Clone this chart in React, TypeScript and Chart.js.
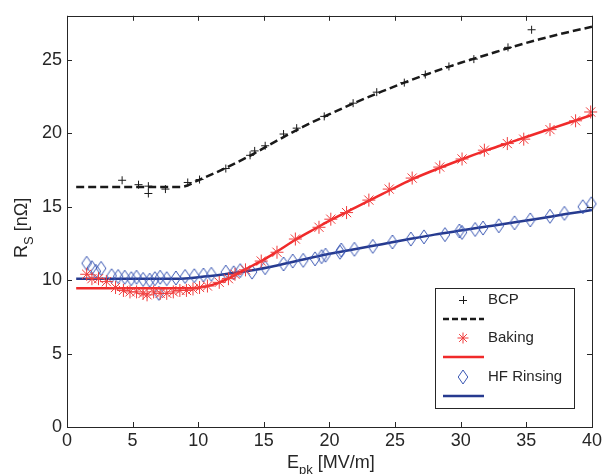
import React, { useEffect, useRef } from "react";
import { Chart, registerables } from "chart.js";

Chart.register(...registerables);

// ---- Data ----
const X_TICKS = [0, 5, 10, 15, 20, 25, 30, 35, 40];
const Y_TICKS = [0, 5, 10, 15, 20, 25];

const BCP_X = [4.2, 5.45, 6.2, 6.2, 7.5, 9.2, 10.1, 12.1, 13.95, 14.3, 15.1, 16.5, 17.5, 19.6, 21.8, 23.6, 25.7, 27.3, 29.1, 31.0, 33.6, 35.4];
const BCP_Y = [16.8, 16.5, 16.4, 15.9, 16.2, 16.65, 16.85, 17.6, 18.5, 18.8, 19.15, 19.95, 20.35, 21.15, 22.05, 22.8, 23.45, 24.0, 24.55, 25.05, 25.85, 27.05];

const BCP_FIT_X = [0.7, 8.7, 10, 12, 14, 16, 18, 20, 22, 24, 26, 28, 30, 32, 34, 36, 38, 40];
const BCP_FIT_Y = [16.35, 16.35, 16.8, 17.6, 18.5, 19.5, 20.45, 21.3, 22.1, 22.85, 23.55, 24.2, 24.8, 25.35, 25.9, 26.4, 26.85, 27.25];

const BAKING_X = [1.5, 1.9, 2.4, 3.0, 3.7, 4.3, 4.8, 5.3, 5.8, 6.1, 6.6, 7.1, 7.6, 8.1, 8.6, 9.1, 9.6, 10.1, 10.7, 11.6, 12.3, 12.8, 13.6, 14.8, 16.0, 17.4, 19.2, 20.1, 21.3, 23.0, 24.55, 26.3, 28.4, 30.1, 31.8, 33.55, 34.8, 36.8, 38.75, 39.9];
const BAKING_Y = [10.4, 10.1, 10.1, 9.9, 9.5, 9.3, 9.2, 9.2, 9.1, 9.0, 9.2, 9.1, 9.1, 9.2, 9.3, 9.3, 9.4, 9.5, 9.6, 9.85, 10.1, 10.4, 10.7, 11.3, 11.9, 12.8, 13.6, 14.15, 14.6, 15.45, 16.2, 16.95, 17.7, 18.25, 18.85, 19.3, 19.6, 20.25, 20.85, 21.45];

const BAKING_FIT_X = [0.7, 9.5, 10.5, 11.5, 12.5, 13.5, 15, 16, 17.5, 19, 20, 22, 24, 26, 28, 30, 32, 34, 36, 38, 40];
const BAKING_FIT_Y = [9.45, 9.45, 9.55, 9.8, 10.2, 10.7, 11.4, 11.95, 12.8, 13.55, 14.05, 14.95, 15.85, 16.75, 17.5, 18.2, 18.85, 19.45, 20.05, 20.65, 21.25];

const HF_X = [1.5, 1.9, 2.2, 2.6, 3.4, 3.9, 4.4, 4.9, 5.3, 5.8, 6.3, 6.7, 7.0, 7.1, 7.6, 8.3, 9.0, 9.7, 10.4, 11.0, 12.1, 12.7, 13.2, 14.1, 15.1, 16.5, 17.2, 18.0, 18.9, 19.4, 19.7, 20.8, 20.9, 21.9, 23.3, 24.8, 26.2, 27.2, 28.8, 29.9, 30.1, 31.1, 31.7, 32.9, 34.1, 35.3, 36.8, 37.9, 39.3, 39.95];
const HF_Y = [11.15, 10.85, 10.6, 10.8, 10.3, 10.25, 10.2, 10.1, 10.2, 10.05, 10.0, 10.1, 9.1, 10.2, 10.1, 10.15, 10.25, 10.3, 10.35, 10.4, 10.55, 10.5, 10.65, 10.55, 10.85, 11.1, 11.3, 11.35, 11.45, 11.6, 11.7, 11.9, 12.05, 12.1, 12.3, 12.6, 12.8, 12.95, 13.1, 13.35, 13.25, 13.45, 13.55, 13.7, 13.9, 14.1, 14.35, 14.55, 15.0, 15.2];

const HF_FIT_X = [0.7, 8.5, 10, 12, 14, 16, 18, 20, 22, 24, 26, 28, 30, 32, 34, 36, 38, 40];
const HF_FIT_Y = [10.1, 10.1, 10.2, 10.4, 10.65, 11.0, 11.4, 11.8, 12.12, 12.45, 12.78, 13.1, 13.38, 13.65, 13.92, 14.2, 14.5, 14.77];

const LEGEND_LABELS = ["BCP", "Baking", "HF Rinsing"];

// ---- Styles ----
const FONT = "'Liberation Sans', Arial, Helvetica, sans-serif";
const AXIS_COLOR = "#262626";
const BLACK = "#1a1a1a";
const RED_LINE = "#f02a2a";
const RED_MARK = "#f03c3c";
const BLUE_LINE = "#263a8f";
const BLUE_MARK = "#3a57b3";

const toPts = (xs: number[], ys: number[]) => xs.map((x, i) => ({ x, y: ys[i] }));

function makeDiamond(color: string): HTMLCanvasElement {
  const c = document.createElement("canvas");
  c.width = 12;
  c.height = 16;
  const g = c.getContext("2d")!;
  g.strokeStyle = color;
  g.lineWidth = 1;
  g.beginPath();
  g.moveTo(6, 1);
  g.lineTo(10.8, 8);
  g.lineTo(6, 15);
  g.lineTo(1.2, 8);
  g.closePath();
  g.stroke();
  return c;
}

export default function App() {
  const ref = useRef<HTMLCanvasElement | null>(null);

  useEffect(() => {
    if (!ref.current) return;
    const diamond = makeDiamond(BLUE_MARK);

    const decor = {
      id: "decor",
      afterDraw(chart: any) {
        const ctx = chart.ctx as CanvasRenderingContext2D;
        const { left, right, top, bottom } = chart.chartArea;
        const xs = chart.scales.x;
        const ys = chart.scales.y;
        ctx.save();
        // box
        ctx.strokeStyle = AXIS_COLOR;
        ctx.lineWidth = 1;
        ctx.strokeRect(Math.round(left) + 0.5, Math.round(top) + 0.5, Math.round(right - left), Math.round(bottom - top));
        // inward ticks
        const TL = 5;
        ctx.beginPath();
        X_TICKS.forEach((v) => {
          const px = Math.round(xs.getPixelForValue(v)) + 0.5;
          ctx.moveTo(px, bottom);
          ctx.lineTo(px, bottom - TL);
          ctx.moveTo(px, top);
          ctx.lineTo(px, top + TL);
        });
        Y_TICKS.forEach((v) => {
          const py = Math.round(ys.getPixelForValue(v)) + 0.5;
          ctx.moveTo(left, py);
          ctx.lineTo(left + TL, py);
          ctx.moveTo(right, py);
          ctx.lineTo(right - TL, py);
        });
        ctx.stroke();

        // axis titles
        ctx.fillStyle = AXIS_COLOR;
        ctx.textBaseline = "alphabetic";
        ctx.textAlign = "left";
        // x title: E_pk [MV/m]
        const xt = 287;
        const xb = 468;
        ctx.font = `18px ${FONT}`;
        ctx.fillText("E", xt, xb);
        let w = ctx.measureText("E").width;
        ctx.font = `13px ${FONT}`;
        ctx.fillText("pk", xt + w, xb + 6);
        w += ctx.measureText("pk").width;
        ctx.font = `18px ${FONT}`;
        ctx.fillText(" [MV/m]", xt + w, xb);

        // y title: R_S [nΩ]
        ctx.save();
        ctx.translate(27, 258);
        ctx.rotate(-Math.PI / 2);
        ctx.font = `18px ${FONT}`;
        ctx.fillText("R", 0, 0);
        let wy = ctx.measureText("R").width;
        ctx.font = `13px ${FONT}`;
        ctx.fillText("S", wy, 6);
        wy += ctx.measureText("S").width;
        ctx.font = `18px ${FONT}`;
        ctx.fillText(" [nΩ]", wy, 0);
        ctx.restore();

        // legend
        const bx = 435, by = 288, bw = 139, bh = 120;
        ctx.fillStyle = "#ffffff";
        ctx.fillRect(bx, by, bw, bh);
        ctx.strokeStyle = AXIS_COLOR;
        ctx.lineWidth = 1;
        ctx.strokeRect(bx + 0.5, by + 0.5, bw, bh);

        const rowsText = [300, 338, 377];
        const rowsLine = [319, 357, 396];
        const mx = 463;
        const lx0 = 443, lx1 = 484;
        const tx = 488;
        ctx.font = `15px ${FONT}`;
        ctx.textBaseline = "middle";
        ctx.fillStyle = AXIS_COLOR;
        LEGEND_LABELS.forEach((t, i) => ctx.fillText(t, tx, rowsText[i]));

        // markers
        // plus
        ctx.strokeStyle = BLACK;
        ctx.lineWidth = 1;
        ctx.beginPath();
        ctx.moveTo(mx - 4, rowsText[0] + 0.5);
        ctx.lineTo(mx + 4, rowsText[0] + 0.5);
        ctx.moveTo(mx + 0.5, rowsText[0] - 4);
        ctx.lineTo(mx + 0.5, rowsText[0] + 4);
        ctx.stroke();
        // asterisk
        ctx.strokeStyle = RED_MARK;
        ctx.beginPath();
        const r = 5.5;
        const d = r * Math.SQRT1_2;
        const cy = rowsText[1];
        ctx.moveTo(mx - r, cy); ctx.lineTo(mx + r, cy);
        ctx.moveTo(mx, cy - r); ctx.lineTo(mx, cy + r);
        ctx.moveTo(mx - d, cy - d); ctx.lineTo(mx + d, cy + d);
        ctx.moveTo(mx - d, cy + d); ctx.lineTo(mx + d, cy - d);
        ctx.stroke();
        // diamond
        ctx.drawImage(diamond, mx - 6, rowsText[2] - 8);

        // lines
        ctx.lineWidth = 2.5;
        ctx.strokeStyle = BLACK;
        ctx.setLineDash([6, 3]);
        ctx.beginPath();
        ctx.moveTo(lx0, rowsLine[0]);
        ctx.lineTo(lx1, rowsLine[0]);
        ctx.stroke();
        ctx.setLineDash([]);
        ctx.strokeStyle = RED_LINE;
        ctx.beginPath();
        ctx.moveTo(lx0, rowsLine[1]);
        ctx.lineTo(lx1, rowsLine[1]);
        ctx.stroke();
        ctx.strokeStyle = BLUE_LINE;
        ctx.beginPath();
        ctx.moveTo(lx0, rowsLine[2]);
        ctx.lineTo(lx1, rowsLine[2]);
        ctx.stroke();
        ctx.restore();
      },
    };

    const chart = new Chart(ref.current, {
      type: "scatter",
      data: {
        datasets: [
          {
            label: "BCP",
            data: toPts(BCP_X, BCP_Y),
            pointStyle: "cross",
            pointRadius: 4,
            borderColor: BLACK,
            borderWidth: 1,
            backgroundColor: "transparent",
            clip: false as any,
          },
          {
            label: "BCP fit",
            data: toPts(BCP_FIT_X, BCP_FIT_Y),
            showLine: true,
            pointRadius: 0,
            borderColor: BLACK,
            borderWidth: 2.5,
            borderDash: [8, 4],
            tension: 0.3,
            cubicInterpolationMode: "monotone",
          },
          {
            label: "Baking",
            data: toPts(BAKING_X, BAKING_Y),
            pointStyle: "star",
            pointRadius: 6.5,
            borderColor: RED_MARK,
            borderWidth: 1,
            backgroundColor: "transparent",
            clip: false as any,
          },
          {
            label: "Baking fit",
            data: toPts(BAKING_FIT_X, BAKING_FIT_Y),
            showLine: true,
            pointRadius: 0,
            borderColor: RED_LINE,
            borderWidth: 2.5,
            cubicInterpolationMode: "monotone",
          },
          {
            label: "HF Rinsing",
            data: toPts(HF_X, HF_Y),
            pointStyle: diamond as any,
            pointRadius: 6,
            borderColor: BLUE_MARK,
            backgroundColor: "transparent",
            clip: false as any,
          },
          {
            label: "HF fit",
            data: toPts(HF_FIT_X, HF_FIT_Y),
            showLine: true,
            pointRadius: 0,
            borderColor: BLUE_LINE,
            borderWidth: 2.5,
            cubicInterpolationMode: "monotone",
          },
        ],
      },
      options: {
        animation: false,
        responsive: false,
        devicePixelRatio: 1,
        layout: { padding: { top: 9, right: 9, left: 0, bottom: 0 } },
        plugins: {
          legend: { display: false },
          tooltip: { enabled: false },
        },
        scales: {
          x: {
            type: "linear",
            min: 0,
            max: 40,
            grid: { display: false, drawTicks: false },
            border: { display: false },
            afterBuildTicks: (s: any) => {
              s.ticks = X_TICKS.map((v) => ({ value: v }));
            },
            afterFit: (s: any) => {
              s.height = 47;
            },
            ticks: {
              color: AXIS_COLOR,
              font: { family: FONT, size: 18 },
              padding: 3,
              maxRotation: 0,
              autoSkip: false,
            },
          },
          y: {
            type: "linear",
            min: 0,
            max: 28,
            grid: { display: false, drawTicks: false },
            border: { display: false },
            afterBuildTicks: (s: any) => {
              s.ticks = Y_TICKS.map((v) => ({ value: v }));
            },
            afterFit: (s: any) => {
              s.width = 67;
            },
            ticks: {
              color: AXIS_COLOR,
              font: { family: FONT, size: 18 },
              padding: 5,
              autoSkip: false,
            },
          },
        },
      },
      plugins: [decor],
    });
    return () => chart.destroy();
  }, []);

  return (
    <div style={{ position: "fixed", left: 0, top: 0, width: 605, height: 474, background: "#fff" }}>
      <canvas ref={ref} width={605} height={474} style={{ display: "block" }} />
    </div>
  );
}
